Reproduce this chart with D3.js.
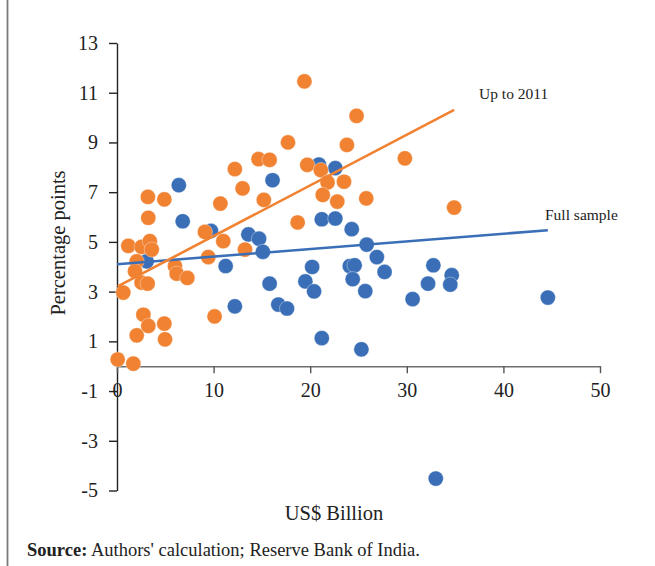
<!DOCTYPE html>
<html>
<head>
<meta charset="utf-8">
<script src="https://cdn.jsdelivr.net/npm/d3@7/dist/d3.min.js"></script>
<style>
  html, body { margin: 0; padding: 0; background: #fff; }
  svg text { font-family: "Liberation Serif", "DejaVu Serif", serif; fill: #222; }
</style>
</head>
<body>
<svg id="chart" width="655" height="566"></svg>
<script>
// ---- Data ----
const xTicks = [0, 10, 20, 30, 40, 50];
const yTicks = [-5, -3, -1, 1, 3, 5, 7, 9, 11, 13];

// "Full sample" (after 2011) points, blue
const blueX = [6.4, 6.8, 9.73, 3.07, 11.25, 12.2, 13.6, 14.7, 15.1, 16.1, 15.8, 16.7, 17.6, 19.5, 20.2, 20.4, 20.9, 22.6, 21.2, 22.6, 21.2, 24.3, 25.85, 26.9, 27.7, 24.1, 24.6, 24.4, 25.7, 25.3, 30.6, 32.75, 32.2, 34.65, 34.5, 44.6, 33.0];
const blueY = [7.28, 5.83, 5.44, 4.22, 4.03, 2.41, 5.30, 5.13, 4.60, 7.48, 3.32, 2.48, 2.32, 3.41, 3.99, 3.01, 8.11, 7.97, 5.91, 5.94, 1.13, 5.51, 4.89, 4.39, 3.79, 4.03, 4.06, 3.50, 3.02, 0.68, 2.70, 4.06, 3.32, 3.66, 3.28, 2.76, -4.52];

// "Up to 2011" points, orange
const orangeX = [19.4, 24.8, 17.7, 23.8, 14.65, 15.8, 29.8, 19.7, 21.1, 21.8, 23.5, 12.2, 13.0, 15.2, 21.3, 22.8, 25.8, 3.2, 4.9, 10.7, 3.24, 18.7, 34.9, 9.1, 11.0, 13.25, 1.17, 2.55, 3.4, 3.6, 2.04, 1.86, 2.55, 3.17, 6.0, 6.18, 7.28, 9.45, 0.65, 10.1, 2.73, 3.24, 4.9, 2.04, 4.97, 0.07, 1.69];
const orangeY = [11.46, 10.07, 9.0, 8.9, 8.33, 8.3, 8.36, 8.1, 7.89, 7.39, 7.42, 7.93, 7.15, 6.69, 6.89, 6.62, 6.75, 6.81, 6.71, 6.54, 5.97, 5.78, 6.38, 5.40, 5.03, 4.69, 4.84, 4.80, 5.03, 4.69, 4.22, 3.82, 3.36, 3.32, 4.03, 3.72, 3.55, 4.39, 2.96, 2.0, 2.07, 1.62, 1.71, 1.24, 1.08, 0.27, 0.10];

// Linear trend lines (endpoints)
const fullTrendX = [0, 44.6];
const fullTrendY = [4.1, 5.47];
const upTrendX = [0.07, 34.9];
const upTrendY = [3.21, 10.31];

const seriesLabels = ["Full sample", "Up to 2011"];
const xTitle = "US$ Billion";
const yTitle = "Percentage points";

// ---- Drawing ----
const BLUE = "#3a6fb7", ORANGE = "#f08232";
const svg = d3.select("#chart");
const fmt = d => String(d);   // plain hyphen minus, as in the reference

const x = d3.scaleLinear().domain([0, 50]).range([117, 600]);
const y = d3.scaleLinear().domain([-5, 13]).range([490.5, 43]);

// left page border
svg.append("line").attr("x1", 7.5).attr("x2", 7.5).attr("y1", 0).attr("y2", 566)
  .attr("stroke", "#7a7a7a").attr("stroke-width", 1.8);

// y axis
const yAxis = svg.append("g").attr("transform", `translate(${x(0)},0)`)
  .call(d3.axisLeft(y).tickValues(yTicks).tickSize(8).tickSizeOuter(0).tickPadding(11).tickFormat(fmt));
yAxis.select(".domain").attr("stroke", "#222").attr("stroke-width", 1.4);
yAxis.selectAll(".tick line").attr("stroke", "#222").attr("stroke-width", 1.4);
yAxis.selectAll(".tick text").style("font-size", "20px").attr("fill", "#222")
  .style("font-family", '"Liberation Serif", serif');

// x axis at y = 0
const xAxis = svg.append("g").attr("transform", `translate(0,${y(0)})`)
  .call(d3.axisBottom(x).tickValues(xTicks).tickSize(7).tickSizeOuter(0).tickPadding(10).tickFormat(fmt));
xAxis.select(".domain").attr("stroke", "#6f6f6f").attr("stroke-width", 1.6);
xAxis.selectAll(".tick line").attr("stroke", "#555").attr("stroke-width", 1.4);
xAxis.selectAll(".tick text").style("font-size", "20px").attr("fill", "#222")
  .style("font-family", '"Liberation Serif", serif');

// points
const blueData = blueX.map((v, i) => [v, blueY[i]]);
const orangeData = orangeX.map((v, i) => [v, orangeY[i]]);

svg.append("g").selectAll("circle").data(blueData).join("circle")
  .attr("cx", d => x(d[0])).attr("cy", d => y(d[1])).attr("r", 7.6)
  .attr("fill", BLUE).attr("stroke", "#ffffff").attr("stroke-opacity", 0.45).attr("stroke-width", 0.8);

svg.append("g").selectAll("circle").data(orangeData).join("circle")
  .attr("cx", d => x(d[0])).attr("cy", d => y(d[1])).attr("r", 7.6)
  .attr("fill", ORANGE).attr("stroke", "#ffffff").attr("stroke-opacity", 0.45).attr("stroke-width", 0.8);

// trend lines
const line = d3.line().x(d => x(d[0])).y(d => y(d[1]));
svg.append("path").datum(fullTrendX.map((v, i) => [v, fullTrendY[i]]))
  .attr("d", line).attr("fill", "none").attr("stroke", BLUE).attr("stroke-width", 2.6);
svg.append("path").datum(upTrendX.map((v, i) => [v, upTrendY[i]]))
  .attr("d", line).attr("fill", "none").attr("stroke", ORANGE).attr("stroke-width", 2.6);

// line labels
svg.append("text").attr("x", 479).attr("y", 99).style("font-size", "15.5px").text(seriesLabels[1]);
svg.append("text").attr("x", 545).attr("y", 220).style("font-size", "15.5px").text(seriesLabels[0]);

// axis titles
svg.append("text").attr("x", 334).attr("y", 520).attr("text-anchor", "middle")
  .style("font-size", "20.5px").text(xTitle);
svg.append("text").attr("transform", "translate(65,243) rotate(-90)").attr("text-anchor", "middle")
  .style("font-size", "20.5px").text(yTitle);

// source note
const src = svg.append("text").attr("x", 27).attr("y", 556).style("font-size", "18.5px");
src.append("tspan").style("font-weight", "bold").text("Source:");
src.append("tspan").text(" Authors' calculation; Reserve Bank of India.");
</script>
</body>
</html>
